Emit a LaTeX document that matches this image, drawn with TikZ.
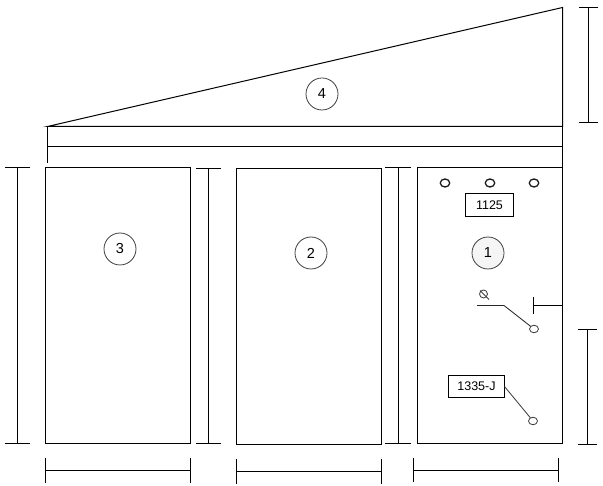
\documentclass[tikz,border=0pt]{standalone}
\usepackage{fontspec}
\setmainfont{Liberation Sans}
\tikzset{
  ink/.style={line width=1pt,draw=black},
  panel/.style={ink,rectangle,minimum width=145pt,minimum height=276pt,inner sep=0pt,outer sep=0pt},
  numcirc/.style={circle,draw=black!75,line width=0.8pt,minimum size=32pt,inner sep=0pt,font=\fontsize{14.5}{14.5}\selectfont},
  labelbox/.style={ink,rectangle,inner sep=0pt,outer sep=0pt,font=\fontsize{12.5}{12.5}\selectfont},
  hole/.style={line width=1.3pt,draw=black!90,ellipse,minimum width=9.5pt,minimum height=8pt,inner sep=0pt,outer sep=0pt},
  thin hole/.style={draw=black!75,line width=0.85pt,ellipse,minimum width=9pt,minimum height=7.5pt,inner sep=0pt,outer sep=0pt},
  dimline/.style={ink}
}
\usetikzlibrary{shapes.geometric}
\begin{document}
\begin{tikzpicture}[x=1pt,y=-1pt]
\useasboundingbox (0,0) rectangle (603,486);
% roof
\coordinate (ra) at (47.5,126.5);
\coordinate (rb) at (562.5,7.5);
\coordinate (rc) at (562.5,126.5);
\draw[ink] (ra) -- (rb) -- (rc) -- cycle;
\node[numcirc] (c4) at (322,94) {4};
% panels
\node[panel] (p3) at (118,305.5) {};
\node[panel] (p2) at (309,306.5) {};
\node[panel] (p1) at (490,305.5) {};
\node[numcirc] (c3) at (120,249) {3};
\node[numcirc] (c2) at (311,253) {2};
\node[numcirc,fill=black!4] (c1) at (488,253) {1};
% holes
\node[hole] (h1) at (445,183) {};
\node[hole] (h2) at (490,183) {};
\node[hole] (h3) at (534,183) {};
\node[labelbox,minimum width=48pt,minimum height=23pt] (b1) at (489.5,205) {1125};
\node[labelbox,minimum width=56pt,minimum height=22pt] (b2) at (476.5,386.5) {1335-J};
\node[thin hole] (h4) at (534,329) {};
\node[thin hole] (h5) at (533,421) {};
% switch
\node[thin hole,minimum width=8pt,minimum height=8pt] (sw) at (483.5,294) {};
\coordinate (swa) at (480,290.5);
\coordinate (swb) at (489,299.5);
\draw[draw=black!75,line width=0.85pt] (swa) -- (swb);
\coordinate (sl) at (477,305.5);
\coordinate (sm) at (504,305.5);
\draw[draw=black!85,line width=0.85pt] (sl) -- (sm) -- (h4);
\draw[draw=black!75,line width=0.85pt] (b2.east) -- (h5);
% small dimension
\coordinate (sa) at (533.5,297);
\coordinate (sb) at (533.5,314);
\coordinate (sc) at (533.5,305.5);
\coordinate (sd) at (562.5,305.5);
\draw[dimline] (sa) -- (sb);
\draw[dimline] (sc) -- (sd);
% dimension above the panels
\coordinate (ta1) at (47.5,127);
\coordinate (ta2) at (47.5,163);
\coordinate (tb1) at (562.5,127);
\coordinate (tb2) at (562.5,167);
\coordinate (tm1) at (47.5,146.5);
\coordinate (tm2) at (562.5,146.5);
\draw[dimline] (ta1) -- (ta2);
\draw[dimline] (tb1) -- (tb2);
\draw[dimline] (tm1) -- (tm2);
% right dimension of roof
\coordinate (r1a) at (579,7.5);
\coordinate (r1b) at (598,7.5);
\coordinate (r1c) at (588.5,7.5);
\coordinate (r1d) at (588.5,122.5);
\coordinate (r1e) at (579,122.5);
\coordinate (r1f) at (598,122.5);
\draw[dimline] (r1a) -- (r1b);
\draw[dimline] (r1e) -- (r1f);
\draw[dimline] (r1c) -- (r1d);
% right dimension of panel 1
\coordinate (r2a) at (578,329.5);
\coordinate (r2b) at (597,329.5);
\coordinate (r2c) at (587.5,329.5);
\coordinate (r2d) at (587.5,444.5);
\coordinate (r2e) at (578,444.5);
\coordinate (r2f) at (597,444.5);
\draw[dimline] (r2a) -- (r2b);
\draw[dimline] (r2e) -- (r2f);
\draw[dimline] (r2c) -- (r2d);
% vertical dimensions
\foreach \n/\x/\l/\r/\t/\b in {v1/17.5/5/30/167.5/443.5, v2/208.5/196/221/168.5/443.5, v3/398.5/385/411/167.5/443.5}{
  \coordinate (\n a) at (\l,\t);
  \coordinate (\n b) at (\r,\t);
  \coordinate (\n c) at (\x,\t);
  \coordinate (\n d) at (\x,\b);
  \coordinate (\n e) at (\l,\b);
  \coordinate (\n f) at (\r,\b);
  \draw[dimline] (\n a) -- (\n b);
  \draw[dimline] (\n e) -- (\n f);
  \draw[dimline] (\n c) -- (\n d);
}
% bottom dimensions
\foreach \n/\l/\r/\y/\t/\b in {u1/45.5/190.5/470.5/458/483, u2/236.5/381.5/471.5/459/484, u3/413.5/558.5/470.5/458/482}{
  \coordinate (\n a) at (\l,\t);
  \coordinate (\n b) at (\l,\b);
  \coordinate (\n c) at (\l,\y);
  \coordinate (\n d) at (\r,\y);
  \coordinate (\n e) at (\r,\t);
  \coordinate (\n f) at (\r,\b);
  \draw[dimline] (\n a) -- (\n b);
  \draw[dimline] (\n e) -- (\n f);
  \draw[dimline] (\n c) -- (\n d);
}
\end{tikzpicture}
\end{document}
